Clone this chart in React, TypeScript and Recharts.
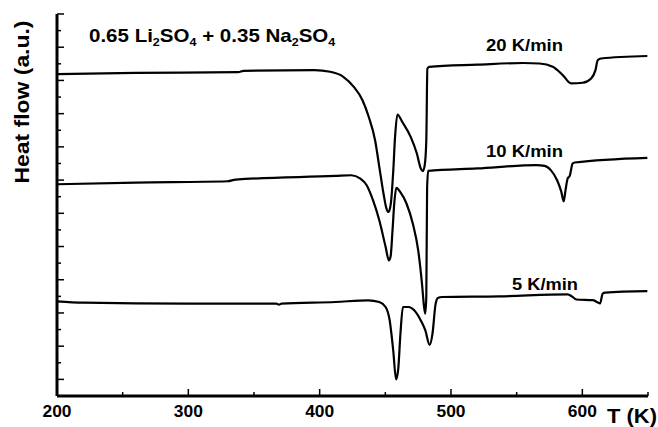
import { LineChart, Line, XAxis, YAxis } from 'recharts';

// DSC traces, 0.65 Li2SO4 + 0.35 Na2SO4 (offset heat flow, arbitrary units)
const temps20 = [200, 260, 338, 342, 396, 408, 418, 426, 432.6, 437.4, 442.2, 445.4, 448.6, 450.8, 452.4, 454.2, 456, 457.4, 459.2, 462.9, 469.3, 474, 477, 478.6, 480, 481.2, 482, 483.4, 520, 555, 567.4, 577.5, 585.1, 591.5, 600.3, 606.7, 610, 611.7, 614.3, 649.5];
const heat20 = [19.38, 19.45, 19.5, 19.58, 19.62, 19.52, 19.22, 18.61, 17.81, 16.8, 15.4, 13.8, 12.19, 11.3, 11.08, 11.6, 13.5, 15.6, 16.95, 16.5, 15.6, 14.6, 13.7, 13.54, 13.9, 15.4, 19.7, 19.82, 19.95, 20.05, 20.02, 19.82, 19.32, 18.82, 18.86, 19.12, 19.62, 20.22, 20.32, 20.47];

const temps10 = [200, 260, 330, 336, 412, 424, 431, 435.8, 440.6, 445.4, 450.2, 452.7, 454, 455.5, 456.8, 458.4, 461.3, 466.1, 470.9, 475, 477.9, 479.5, 480.4, 481.2, 481.8, 482.6, 520, 565, 571.3, 576, 580.8, 584, 585.8, 587.2, 588.8, 590.4, 592.6, 594.2, 649.5];
const heat10 = [12.75, 12.85, 12.93, 13.03, 13.25, 13.29, 13.09, 12.69, 11.79, 10.58, 8.98, 8.17, 8.4, 10, 11.6, 12.53, 12.29, 11.59, 10.38, 8.78, 6.77, 5.36, 4.96, 6, 12.5, 13.55, 13.7, 13.9, 13.86, 13.6, 12.99, 12.29, 11.72, 12.39, 13.09, 13.25, 14.0, 14.06, 14.34];

const temps5 = [200, 220, 300, 367, 369, 371, 412, 437, 445.4, 450.2, 453.3, 456, 458.2, 459.8, 461.5, 463.4, 467.7, 472, 477.3, 480.4, 483.7, 485.9, 488.2, 490, 493.2, 537, 588.8, 592, 595.5, 607.9, 611.1, 613.5, 615.5, 617.5, 649.5];
const heat5 = [5.7, 5.62, 5.56, 5.56, 5.5, 5.56, 5.66, 5.76, 5.66, 5.36, 4.56, 2.75, 1.0, 1.6, 3.75, 5.36, 5.36, 5.16, 4.5, 3.96, 3.08, 3.75, 5.5, 5.9, 5.96, 6.0, 6.12, 6.0, 5.81, 5.77, 5.66, 5.57, 6.16, 6.22, 6.31];

const xTicks = [200, 250, 300, 350, 400, 450, 500, 550, 600, 650];
const yTicks = [1, 2, 3, 4, 5, 6, 7, 8, 9, 10, 11, 12, 13, 14, 15, 16, 17, 18, 19, 20, 21, 22, 23];

const toRows = (t: number[], u: number[]) => t.map((v, i) => ({ t: v, u: u[i] }));

const W = 658;
const H = 427;
const PLOT_LEFT = 57;
const X_AXIS_H = 31;
const AXIS_Y = H - X_AXIS_H;
const FONT = '"Liberation Sans", Arial, sans-serif';

function XTick(props: any) {
    const { x, payload } = props;
    const v = payload.value;
    const major = v % 100 === 0;
    return (
        <g>
            <line x1={x} x2={x} y1={AXIS_Y} y2={AXIS_Y - (major ? 7 : 4)} stroke="#000" strokeWidth={1.5} />
            {major && v <= 600 && (
                <text x={x} y={AXIS_Y + 21} textAnchor="middle" fontFamily={FONT} fontWeight="bold"
                      fontSize={16} textLength={29} lengthAdjust="spacingAndGlyphs" fill="#000">
                    {v}
                </text>
            )}
        </g>
    );
}

function YTick(props: any) {
    const { y, payload } = props;
    const major = payload.value % 2 === 1;
    return (
        <line x1={PLOT_LEFT} x2={PLOT_LEFT + (major ? 7 : 4)} y1={y} y2={y} stroke="#000" strokeWidth={1.5} />
    );
}

export default function App() {
    const text = { fontFamily: FONT, fontWeight: 'bold' as const, fill: '#000' };
    return (
        <div style={{ position: 'absolute', left: 0, top: 0, width: W, height: H, background: '#fff' }}>
            <LineChart width={W} height={H} margin={{ top: 14, right: 10, bottom: 0, left: 0 }}>
                <XAxis
                    type="number"
                    dataKey="t"
                    domain={[200, 650]}
                    ticks={xTicks}
                    interval={0}
                    height={X_AXIS_H}
                    tickSize={0}
                    tickMargin={0}
                    tickLine={false}
                    tick={XTick}
                    axisLine={{ stroke: '#000', strokeWidth: 3 }}
                    allowDataOverflow
                />
                <YAxis
                    type="number"
                    domain={[0, 23]}
                    ticks={yTicks}
                    interval={0}
                    width={PLOT_LEFT}
                    tickSize={0}
                    tickMargin={0}
                    tickLine={false}
                    tick={YTick}
                    axisLine={{ stroke: '#000', strokeWidth: 3 }}
                    allowDataOverflow
                />
                <Line data={toRows(temps20, heat20)} dataKey="u" type="monotone" stroke="#000" strokeWidth={2.2} dot={false} isAnimationActive={false} />
                <Line data={toRows(temps10, heat10)} dataKey="u" type="monotone" stroke="#000" strokeWidth={2.2} dot={false} isAnimationActive={false} />
                <Line data={toRows(temps5, heat5)} dataKey="u" type="monotone" stroke="#000" strokeWidth={2.2} dot={false} isAnimationActive={false} />
            </LineChart>
            <svg width={W} height={H} style={{ position: 'absolute', left: 0, top: 0, pointerEvents: 'none' }}>
                <text {...text} fontSize={20} textAnchor="middle" textLength={163} lengthAdjust="spacingAndGlyphs"
                      transform="translate(29,102) rotate(-90)">
                    Heat flow (a.u.)
                </text>
                <g transform="translate(89,42) scale(1.14,1)">
                    <text {...text} x={0} y={0} fontSize={18}>
                        0.65 Li<tspan fontSize={11} dy={4}>2</tspan>
                        <tspan dy={-4}>SO</tspan><tspan fontSize={11} dy={4}>4</tspan>
                        <tspan dy={-4}> + 0.35 Na</tspan><tspan fontSize={11} dy={4}>2</tspan>
                        <tspan dy={-4}>SO</tspan><tspan fontSize={11} dy={4}>4</tspan>
                    </text>
                </g>
                <text {...text} x={486} y={51} fontSize={16} textLength={77} lengthAdjust="spacingAndGlyphs">20 K/min</text>
                <text {...text} x={486} y={157} fontSize={16} textLength={77} lengthAdjust="spacingAndGlyphs">10 K/min</text>
                <text {...text} x={512} y={290} fontSize={16} textLength={66} lengthAdjust="spacingAndGlyphs">5 K/min</text>
                <text {...text} x={607} y={423} fontSize={21} textLength={50} lengthAdjust="spacingAndGlyphs">T (K)</text>
            </svg>
        </div>
    );
}
